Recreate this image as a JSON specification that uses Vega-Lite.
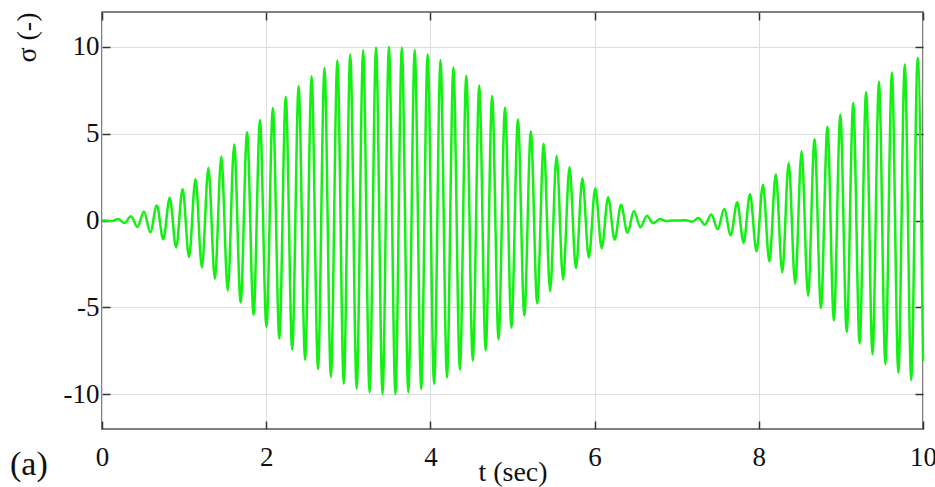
{
  "$schema": "https://vega.github.io/schema/vega-lite/v6.json",
  "width": 821,
  "height": 417,
  "autosize": {"type": "none"},
  "padding": {"left": 102, "top": 12, "right": 12, "bottom": 58},
  "background": "white",
  "config": {
    "view": {"stroke": "#555555", "strokeWidth": 1.5},
    "font": "Liberation Serif, DejaVu Serif, serif",
    "axis": {"labelFont": "Liberation Serif, DejaVu Serif, serif", "titleFont": "Liberation Serif, DejaVu Serif, serif", "labelFontSize": 27, "titleFontSize": 28}
  },
  "title": {"text": "(a)", "orient": "bottom", "anchor": "start", "frame": "group", "dx": -92, "dy": -38, "font": "Liberation Serif, DejaVu Serif, serif", "fontSize": 34, "fontWeight": "normal", "color": "#111111", "offset": 0},
  "data": {"values": [
    {"t": 0, "s": 0},
    {"t": 0.039, "s": 0.00}, {"t": 0.118, "s": -0.03}, {"t": 0.196, "s": 0.08}, {"t": 0.275, "s": -0.15},
    {"t": 0.353, "s": 0.25}, {"t": 0.432, "s": -0.37}, {"t": 0.511, "s": 0.52}, {"t": 0.589, "s": -0.68},
    {"t": 0.668, "s": 0.87}, {"t": 0.746, "s": -1.08}, {"t": 0.825, "s": 1.31}, {"t": 0.903, "s": -1.55},
    {"t": 0.982, "s": 1.82}, {"t": 1.060, "s": -2.10}, {"t": 1.139, "s": 2.39}, {"t": 1.217, "s": -2.70},
    {"t": 1.296, "s": 3.02}, {"t": 1.375, "s": -3.35}, {"t": 1.453, "s": 3.68}, {"t": 1.532, "s": -4.03},
    {"t": 1.610, "s": 4.37}, {"t": 1.689, "s": -4.72}, {"t": 1.767, "s": 5.08}, {"t": 1.846, "s": -5.43},
    {"t": 1.924, "s": 5.78}, {"t": 2.003, "s": -6.12}, {"t": 2.081, "s": 6.47}, {"t": 2.160, "s": -6.80},
    {"t": 2.238, "s": 7.12}, {"t": 2.317, "s": -7.44}, {"t": 2.395, "s": 7.74}, {"t": 2.474, "s": -8.03},
    {"t": 2.553, "s": 8.30}, {"t": 2.631, "s": -8.55}, {"t": 2.710, "s": 8.79}, {"t": 2.788, "s": -9.01},
    {"t": 2.867, "s": 9.21}, {"t": 2.945, "s": -9.39}, {"t": 3.024, "s": 9.55}, {"t": 3.102, "s": -9.69},
    {"t": 3.181, "s": 9.80}, {"t": 3.259, "s": -9.88}, {"t": 3.338, "s": 9.95}, {"t": 3.417, "s": -9.99},
    {"t": 3.495, "s": 10.00}, {"t": 3.574, "s": -9.99}, {"t": 3.652, "s": 9.95}, {"t": 3.731, "s": -9.89},
    {"t": 3.809, "s": 9.81}, {"t": 3.888, "s": -9.70}, {"t": 3.966, "s": 9.57}, {"t": 4.045, "s": -9.41},
    {"t": 4.123, "s": 9.24}, {"t": 4.202, "s": -9.04}, {"t": 4.280, "s": 8.82}, {"t": 4.359, "s": -8.59},
    {"t": 4.437, "s": 8.33}, {"t": 4.516, "s": -8.06}, {"t": 4.595, "s": 7.77}, {"t": 4.673, "s": -7.47},
    {"t": 4.752, "s": 7.16}, {"t": 4.830, "s": -6.84}, {"t": 4.909, "s": 6.51}, {"t": 4.987, "s": -6.17},
    {"t": 5.066, "s": 5.82}, {"t": 5.144, "s": -5.47}, {"t": 5.223, "s": 5.12}, {"t": 5.301, "s": -4.77},
    {"t": 5.380, "s": 4.42}, {"t": 5.458, "s": -4.07}, {"t": 5.537, "s": 3.73}, {"t": 5.616, "s": -3.39},
    {"t": 5.694, "s": 3.06}, {"t": 5.773, "s": -2.74}, {"t": 5.851, "s": 2.43}, {"t": 5.930, "s": -2.13},
    {"t": 6.008, "s": 1.85}, {"t": 6.087, "s": -1.59}, {"t": 6.165, "s": 1.34}, {"t": 6.244, "s": -1.11},
    {"t": 6.322, "s": 0.90}, {"t": 6.401, "s": -0.71}, {"t": 6.479, "s": 0.54}, {"t": 6.558, "s": -0.39},
    {"t": 6.637, "s": 0.27}, {"t": 6.715, "s": -0.16}, {"t": 6.794, "s": 0.09}, {"t": 6.872, "s": -0.03},
    {"t": 6.951, "s": 0.00}, {"t": 7.029, "s": 0.00}, {"t": 7.108, "s": 0.02}, {"t": 7.186, "s": -0.07},
    {"t": 7.265, "s": 0.14}, {"t": 7.343, "s": -0.24}, {"t": 7.422, "s": 0.35}, {"t": 7.500, "s": -0.50},
    {"t": 7.579, "s": 0.66}, {"t": 7.658, "s": -0.85}, {"t": 7.736, "s": 1.05}, {"t": 7.815, "s": -1.28},
    {"t": 7.893, "s": 1.52}, {"t": 7.972, "s": -1.78}, {"t": 8.050, "s": 2.06}, {"t": 8.129, "s": -2.36},
    {"t": 8.207, "s": 2.66}, {"t": 8.286, "s": -2.98}, {"t": 8.364, "s": 3.31}, {"t": 8.443, "s": -3.64},
    {"t": 8.521, "s": 3.98}, {"t": 8.600, "s": -4.33}, {"t": 8.679, "s": 4.68}, {"t": 8.757, "s": -5.03},
    {"t": 8.836, "s": 5.39}, {"t": 8.914, "s": -5.74}, {"t": 8.993, "s": 6.08}, {"t": 9.071, "s": -6.42},
    {"t": 9.150, "s": 6.76}, {"t": 9.228, "s": -7.08}, {"t": 9.307, "s": 7.40}, {"t": 9.385, "s": -7.70},
    {"t": 9.464, "s": 7.99}, {"t": 9.542, "s": -8.27}, {"t": 9.621, "s": 8.52}, {"t": 9.700, "s": -8.77},
    {"t": 9.778, "s": 8.99}, {"t": 9.857, "s": -9.19}, {"t": 9.935, "s": 9.37}, {"t": 10, "s": -8.09}
  ]},
  "layer": [
    {
      "mark": {"type": "line", "interpolate": "monotone", "color": "#14f014", "strokeWidth": 2.5},
      "encoding": {
        "x": {
          "field": "t", "type": "quantitative",
          "scale": {"domain": [0, 10], "nice": false, "zero": false},
          "axis": {"orient": "bottom", "values": [0, 2, 4, 6, 8, 10], "grid": true, "gridColor": "#dddddd", "gridWidth": 1,
                   "domain": false, "tickSize": -8, "tickColor": "#333333", "tickWidth": 1.5,
                   "labelFlush": false, "labelOverlap": false,
                   "labelFont": "Liberation Serif, DejaVu Serif, serif", "labelFontSize": 27, "labelColor": "#111111", "labelPadding": 23,
                   "title": "t (sec)", "titleFont": "Liberation Serif, DejaVu Serif, serif", "titleFontSize": 28, "titleFontWeight": "normal",
                   "titleColor": "#111111", "titlePadding": -12}
        },
        "y": {
          "field": "s", "type": "quantitative",
          "scale": {"domain": [-12, 12], "nice": false, "zero": false},
          "axis": {"orient": "left", "values": [-10, -5, 0, 5, 10], "grid": true, "gridColor": "#dddddd", "gridWidth": 1,
                   "domain": false, "tickSize": -8, "tickColor": "#333333", "tickWidth": 1.5,
                   "labelFlush": false, "labelOverlap": false,
                   "labelFont": "Liberation Serif, DejaVu Serif, serif", "labelFontSize": 27, "labelColor": "#111111", "labelPadding": 11,
                   "labelExpr": "datum.value < 0 ? '-' + abs(datum.value) : '' + datum.value",
                   "title": "σ (-)", "titleFont": "Liberation Serif, DejaVu Serif, serif", "titleFontSize": 28, "titleFontWeight": "normal",
                   "titleColor": "#111111", "titleAnchor": "end", "titlePadding": 22}
        }
      }
    },
    {
      "mark": {"type": "line", "opacity": 0},
      "encoding": {
        "x": {
          "field": "t", "type": "quantitative",
          "axis": {"orient": "top", "values": [0, 2, 4, 6, 8, 10], "grid": false, "domain": false, "labels": false,
                   "tickSize": -8, "tickColor": "#333333", "tickWidth": 1.5, "title": null}
        },
        "y": {
          "field": "s", "type": "quantitative",
          "axis": {"orient": "right", "values": [-10, -5, 0, 5, 10], "grid": false, "domain": false, "labels": false,
                   "tickSize": -8, "tickColor": "#333333", "tickWidth": 1.5, "title": null}
        }
      }
    }
  ],
  "resolve": {"axis": {"x": "independent", "y": "independent"}}
}
